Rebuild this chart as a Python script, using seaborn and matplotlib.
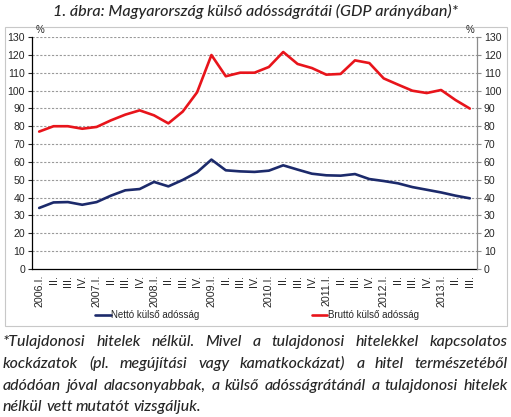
import numpy as np
import pandas as pd
import matplotlib.pyplot as plt
import seaborn as sns
from matplotlib.lines import Line2D
from matplotlib.patches import Rectangle

# -----------------------------------------------
# Data (quarterly, % of GDP)
# -----------------------------------------------
quarters = ["2006.I.", "II.", "III.", "IV.",
            "2007.I.", "II.", "III.", "IV.",
            "2008.I.", "II.", "III.", "IV.",
            "2009.I.", "II.", "III.", "IV.",
            "2010.I.", "II.", "III.", "IV.",
            "2011.I.", "II.", "III.", "IV.",
            "2012.I.", "II.", "III.", "IV.",
            "2013.I.", "II.", "III."]

brutto = [77.0, 80.0, 80.0, 78.6, 79.6, 83.3, 86.5, 88.9, 86.1, 81.6, 88.2,
          99.0, 119.9, 108.0, 110.0, 110.0, 113.2, 121.6, 114.9, 112.6, 108.9,
          109.3, 116.9, 115.4, 106.8, 103.3, 99.9, 98.6, 100.3, 94.7, 89.9]

netto = [34.2, 37.3, 37.5, 36.0, 37.5, 41.1, 44.1, 44.8, 48.8, 46.3, 49.9,
         54.2, 61.3, 55.3, 54.7, 54.4, 55.1, 58.1, 55.7, 53.4, 52.5,
         52.3, 53.2, 50.4, 49.3, 48.0, 45.9, 44.4, 42.9, 41.1, 39.6]

series_names = ["Nettó külső adósság", "Bruttó külső adósság"]
series_colors = ["#1c2a6b", "#e8141b"]

y_ticks = list(range(0, 131, 10))

title = "1. ábra: Magyarország külső adósságrátái (GDP arányában)*"
footnote_lines = [
    "*Tulajdonosi hitelek nélkül. Mivel a tulajdonosi hitelekkel kapcsolatos",
    "kockázatok (pl. megújítási vagy kamatkockázat) a hitel természetéből",
    "adódóan jóval alacsonyabbak, a külső adósságrátánál a tulajdonosi hitelek",
    "nélkül vett mutatót vizsgáljuk.",
]

# long-form table for seaborn
df = pd.DataFrame({
    "idx": list(range(len(quarters))) * 2,
    "value": netto + brutto,
    "series": [series_names[0]] * len(netto) + [series_names[1]] * len(brutto),
})

# -----------------------------------------------
# Figure
# -----------------------------------------------
sns.set_style("white")
plt.rcParams["font.family"] = ["Liberation Sans", "DejaVu Sans"]

W, H = 511, 417
fig = plt.figure(figsize=(W / 100, H / 100), dpi=100)

# frame around the chart
fig.patches.append(Rectangle((5 / W, 1 - 326 / H), 502 / W, 299 / H,
                             transform=fig.transFigure, fill=False,
                             edgecolor="#c8c8c8", linewidth=0.8))

ax = fig.add_axes([32 / W, 1 - 269 / H, 445 / W, 232 / H])

sns.lineplot(data=df, x="idx", y="value", hue="series",
             palette=dict(zip(series_names, series_colors)),
             linewidth=1.9, ax=ax, legend=False)

ax.set_xlim(-0.5, len(quarters) - 0.5)
ax.set_ylim(0, 130)
ax.set_xlabel("")
ax.set_ylabel("")

# gridlines
for v in y_ticks[1:]:
    ax.axhline(v, color="#9a9a9a", linewidth=0.8, linestyle=(0, (2, 1.5)), zorder=0)

# x axis: labels at points, tick marks at boundaries
ax.set_xticks(range(len(quarters)))
ax.set_xticklabels(quarters, rotation=90, fontsize=7.7, va="top")
ax.set_xticks(np.arange(-0.5, len(quarters), 1), minor=True)
ax.tick_params(axis="x", which="major", length=0, pad=4)
ax.tick_params(axis="x", which="minor", length=3, direction="out", color="black", width=0.8)

ax.set_yticks(y_ticks)
ax.tick_params(axis="y", labelsize=7.6, length=3, direction="out", width=0.8, pad=2)

for s in ["top", "right"]:
    ax.spines[s].set_visible(False)
ax.spines["left"].set_color("black")
ax.spines["bottom"].set_color("black")
ax.spines["left"].set_linewidth(0.9)
ax.spines["bottom"].set_linewidth(0.9)

ax2 = ax.twinx()
ax2.set_ylim(0, 130)
ax2.set_yticks(y_ticks)
ax2.tick_params(axis="y", labelsize=7.6, length=3, direction="out", width=0.8,
                pad=2, color="#8c8c8c")
for s in ["top", "left", "bottom"]:
    ax2.spines[s].set_visible(False)
ax2.spines["right"].set_color("#8c8c8c")
ax2.spines["right"].set_linewidth(0.9)

fig.text(40 / W, 1 - 30 / H, "%", fontsize=7, ha="center", va="center")
fig.text(470 / W, 1 - 30 / H, "%", fontsize=7, ha="center", va="center")

# legend
handles = [Line2D([], [], color=c, linewidth=1.9) for c in series_colors]
fig.legend(handles, series_names, loc="center", bbox_to_anchor=(257 / W, 1 - 315 / H),
           ncol=2, frameon=False, fontsize=7, handlelength=1.6, handletextpad=0.1,
           columnspacing=11.5)

# title
fig.text(0.5, 1 - 11 / H, title, fontsize=11.6, style="italic", weight=500,
         family=["Lato", "DejaVu Sans"], ha="center", va="center")

# justified footnote
renderer = fig.canvas.get_renderer()
x0, x1 = 3, 508
line_base = [346, 368, 390, 411]
for i, line in enumerate(footnote_lines):
    words = line.split(" ")
    texts = [fig.text(0, 1 - line_base[i] / H, w, fontsize=11.4, style="italic",
                      weight=500, family=["Lato", "DejaVu Sans"],
                      ha="left", va="baseline")
             for w in words]
    widths = [t.get_window_extent(renderer).width for t in texts]
    if i < len(footnote_lines) - 1:
        gap = (x1 - x0 - sum(widths)) / (len(words) - 1)
    else:
        gap = 3.5
    x = x0
    for t, w in zip(texts, widths):
        t.set_x(x / W)
        x += w + gap

fig.savefig("out.png", dpi=100)
